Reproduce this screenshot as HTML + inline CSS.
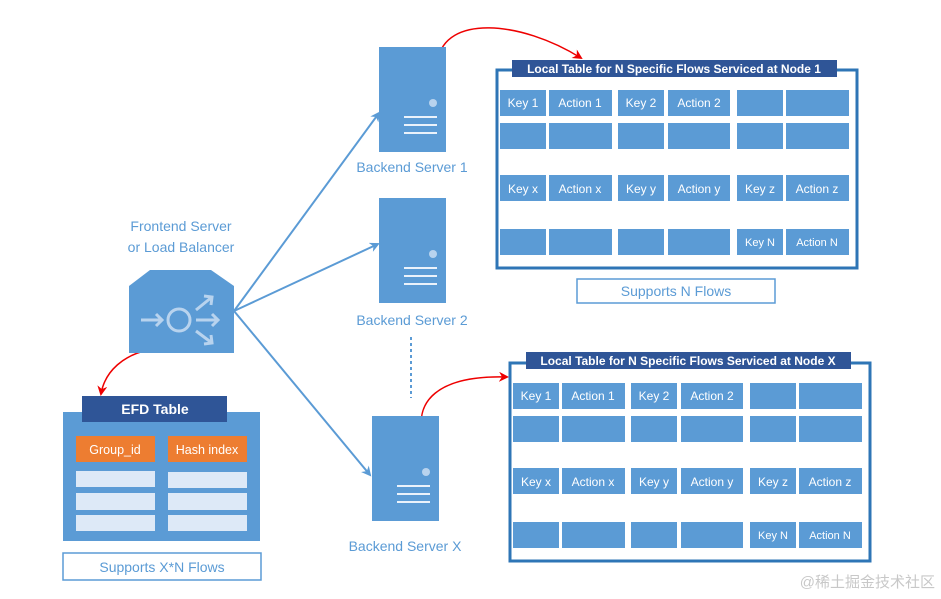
<!DOCTYPE html>
<html><head><meta charset="utf-8"><style>
html,body{margin:0;padding:0;background:#fff;}
svg{display:block;}
text{font-family:"Liberation Sans","Noto Sans CJK SC",sans-serif;}
</style></head><body>
<svg width="941" height="599" viewBox="0 0 941 599" xmlns="http://www.w3.org/2000/svg">
<defs>
<marker id="ab" markerWidth="10" markerHeight="10" refX="8" refY="5" orient="auto" markerUnits="userSpaceOnUse"><path d="M0,0 L10,5 L0,10 L3,5 z" fill="#5b9bd5"/></marker>
<marker id="ar" markerWidth="10" markerHeight="10" refX="8" refY="5" orient="auto" markerUnits="userSpaceOnUse"><path d="M0,0 L10,5 L0,10 L3,5 z" fill="#e00"/></marker>
</defs>
<rect width="941" height="599" fill="#fff"/>
<!-- connectors -->
<g stroke="#5b9bd5" stroke-width="2" fill="none">
<line x1="234" y1="311" x2="379" y2="113" marker-end="url(#ab)"/>
<line x1="234" y1="311" x2="378" y2="244" marker-end="url(#ab)"/>
<line x1="234" y1="311" x2="370" y2="475" marker-end="url(#ab)"/>
<line x1="411" y1="337" x2="411" y2="398" stroke-dasharray="3,3"/>
</g>
<g stroke="#e00" stroke-width="1.5" fill="none">
<path d="M438,60 C445,15 520,20 581,58" marker-end="url(#ar)"/>
<path d="M425,443 C410,400 440,375 507,377" marker-end="url(#ar)"/>
<path d="M148,350 C125,355 105,370 101,394" marker-end="url(#ar)"/>
</g>
<!-- servers -->
<g fill="#5b9bd5">
<rect x="379" y="47" width="67" height="105"/>
<rect x="379" y="198" width="67" height="105"/>
<rect x="372" y="416" width="67" height="105"/>
</g>
<g fill="#b8d3ee">
<circle cx="433" cy="103" r="4"/><circle cx="433" cy="254" r="4"/><circle cx="426" cy="472" r="4"/>
</g>
<g stroke="#eaf2fb" stroke-width="2">
<line x1="404" y1="117" x2="437" y2="117"/><line x1="404" y1="125" x2="437" y2="125"/><line x1="404" y1="133" x2="437" y2="133"/>
<line x1="404" y1="268" x2="437" y2="268"/><line x1="404" y1="276" x2="437" y2="276"/><line x1="404" y1="284" x2="437" y2="284"/>
<line x1="397" y1="486" x2="430" y2="486"/><line x1="397" y1="494" x2="430" y2="494"/><line x1="397" y1="502" x2="430" y2="502"/>
</g>
<g fill="#5b9bd5" font-size="14">
<text x="412" y="172" text-anchor="middle">Backend Server 1</text>
<text x="412" y="325" text-anchor="middle">Backend Server 2</text>
<text x="405" y="551" text-anchor="middle">Backend Server X</text>
<text x="181" y="231" text-anchor="middle">Frontend Server</text>
<text x="181" y="252" text-anchor="middle">or Load Balancer</text>
</g>
<!-- LB icon -->
<path d="M150,270 L211,270 L234,286 L234,353 L129,353 L129,286 Z" fill="#5b9bd5"/>
<g stroke="#b8d3ee" stroke-width="3" fill="none">
<circle cx="179" cy="320" r="11"/>
<line x1="141" y1="320" x2="162" y2="320"/><path d="M156,314 L162,320 L156,326"/>
<line x1="196" y1="320" x2="218" y2="320"/><path d="M212,314 L218,320 L212,326"/>
<line x1="196" y1="310" x2="212" y2="297"/><path d="M204,296 L212,297 L211,305"/>
<line x1="196" y1="331" x2="212" y2="343"/><path d="M211,335 L212,343 L204,344"/>
</g>
<!-- EFD -->
<rect x="63" y="412" width="197" height="129" fill="#5b9bd5"/>
<rect x="82" y="396" width="145" height="26" fill="#2f5597"/>
<text x="155" y="414" text-anchor="middle" fill="#fff" font-size="14" font-weight="bold">EFD Table</text>
<rect x="76" y="436" width="79" height="26" fill="#ed7d31"/>
<rect x="168" y="436" width="79" height="26" fill="#ed7d31"/>
<text x="115" y="454" text-anchor="middle" fill="#fff" font-size="12.5">Group_id</text>
<text x="207" y="454" text-anchor="middle" fill="#fff" font-size="12.5">Hash index</text>
<g fill="#dde9f7">
<rect x="76" y="471" width="79" height="16"/><rect x="168" y="472" width="79" height="16"/>
<rect x="76" y="493" width="79" height="17"/><rect x="168" y="493" width="79" height="17"/>
<rect x="76" y="515" width="79" height="16"/><rect x="168" y="515" width="79" height="16"/>
</g>
<rect x="63" y="553" width="198" height="27" fill="#fff" stroke="#5b9bd5" stroke-width="1.5"/>
<text x="162" y="572" text-anchor="middle" fill="#5b9bd5" font-size="14">Supports X*N Flows</text>
<rect x="577" y="279" width="198" height="24" fill="#fff" stroke="#5b9bd5" stroke-width="1.5"/>
<text x="676" y="296" text-anchor="middle" fill="#5b9bd5" font-size="14">Supports N Flows</text>
<!-- Table 1 -->
<g id="t1">
<rect x="497" y="70" width="360" height="198" fill="#fff" stroke="#2e75b6" stroke-width="3"/>
<rect x="512" y="60" width="325" height="17" fill="#2f5597"/>
<text x="674" y="73" text-anchor="middle" fill="#fff" font-size="12" font-weight="bold">Local Table for N Specific Flows Serviced at Node 1</text>
<g fill="#5b9bd5">
<rect x="500" y="90" width="46" height="26"/><rect x="549" y="90" width="63" height="26"/><rect x="618" y="90" width="46" height="26"/><rect x="668" y="90" width="62" height="26"/><rect x="737" y="90" width="46" height="26"/><rect x="786" y="90" width="63" height="26"/>
<rect x="500" y="123" width="46" height="26"/><rect x="549" y="123" width="63" height="26"/><rect x="618" y="123" width="46" height="26"/><rect x="668" y="123" width="62" height="26"/><rect x="737" y="123" width="46" height="26"/><rect x="786" y="123" width="63" height="26"/>
<rect x="500" y="175" width="46" height="26"/><rect x="549" y="175" width="63" height="26"/><rect x="618" y="175" width="46" height="26"/><rect x="668" y="175" width="62" height="26"/><rect x="737" y="175" width="46" height="26"/><rect x="786" y="175" width="63" height="26"/>
<rect x="500" y="229" width="46" height="26"/><rect x="549" y="229" width="63" height="26"/><rect x="618" y="229" width="46" height="26"/><rect x="668" y="229" width="62" height="26"/><rect x="737" y="229" width="46" height="26"/><rect x="786" y="229" width="63" height="26"/>
</g>
<g fill="#fff" font-size="12" text-anchor="middle">
<text x="523" y="107">Key 1</text><text x="580" y="107">Action 1</text><text x="641" y="107">Key 2</text><text x="699" y="107">Action 2</text>
<text x="523" y="193">Key x</text><text x="580" y="193">Action x</text><text x="641" y="193">Key y</text><text x="699" y="193">Action y</text><text x="760" y="193">Key z</text><text x="817" y="193">Action z</text>
<text x="760" y="246" font-size="11">Key N</text><text x="817" y="246" font-size="11">Action N</text>
</g>
</g>
<!-- Table X -->
<g transform="translate(13,293)">
<rect x="497" y="70" width="360" height="198" fill="#fff" stroke="#2e75b6" stroke-width="3"/>
<rect x="513" y="59" width="325" height="17" fill="#2f5597"/>
<text x="675" y="72" text-anchor="middle" fill="#fff" font-size="12" font-weight="bold">Local Table for N Specific Flows Serviced at Node X</text>
<g fill="#5b9bd5">
<rect x="500" y="90" width="46" height="26"/><rect x="549" y="90" width="63" height="26"/><rect x="618" y="90" width="46" height="26"/><rect x="668" y="90" width="62" height="26"/><rect x="737" y="90" width="46" height="26"/><rect x="786" y="90" width="63" height="26"/>
<rect x="500" y="123" width="46" height="26"/><rect x="549" y="123" width="63" height="26"/><rect x="618" y="123" width="46" height="26"/><rect x="668" y="123" width="62" height="26"/><rect x="737" y="123" width="46" height="26"/><rect x="786" y="123" width="63" height="26"/>
<rect x="500" y="175" width="46" height="26"/><rect x="549" y="175" width="63" height="26"/><rect x="618" y="175" width="46" height="26"/><rect x="668" y="175" width="62" height="26"/><rect x="737" y="175" width="46" height="26"/><rect x="786" y="175" width="63" height="26"/>
<rect x="500" y="229" width="46" height="26"/><rect x="549" y="229" width="63" height="26"/><rect x="618" y="229" width="46" height="26"/><rect x="668" y="229" width="62" height="26"/><rect x="737" y="229" width="46" height="26"/><rect x="786" y="229" width="63" height="26"/>
</g>
<g fill="#fff" font-size="12" text-anchor="middle">
<text x="523" y="107">Key 1</text><text x="580" y="107">Action 1</text><text x="641" y="107">Key 2</text><text x="699" y="107">Action 2</text>
<text x="523" y="193">Key x</text><text x="580" y="193">Action x</text><text x="641" y="193">Key y</text><text x="699" y="193">Action y</text><text x="760" y="193">Key z</text><text x="817" y="193">Action z</text>
<text x="760" y="246" font-size="11">Key N</text><text x="817" y="246" font-size="11">Action N</text>
</g>
</g>
<text x="935" y="587" text-anchor="end" fill="#c8c8c8" font-size="15">@稀土掘金技术社区</text>
</svg>
</body></html>
